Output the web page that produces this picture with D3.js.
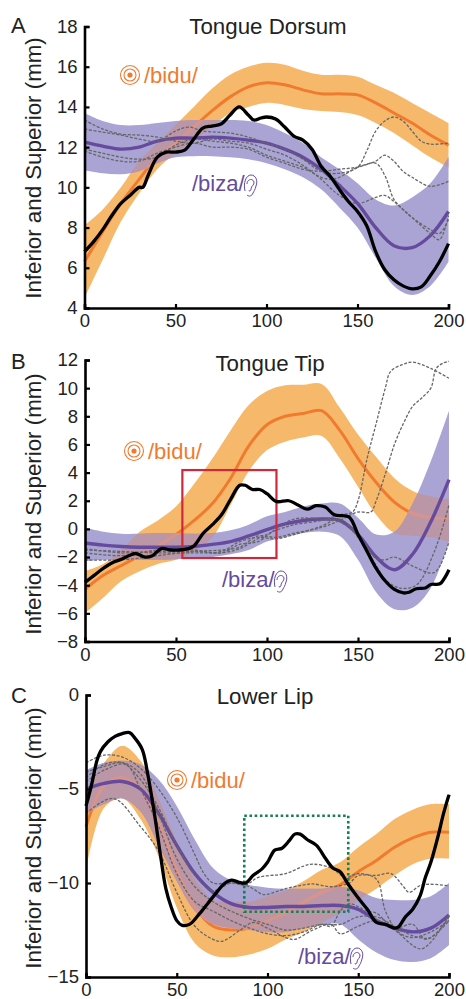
<!DOCTYPE html>
<html><head><meta charset="utf-8">
<script src="https://cdn.jsdelivr.net/npm/d3@7"></script>
<style>html,body{margin:0;padding:0;background:#fff;overflow:hidden}svg{display:block}text{font-family:"Liberation Sans",Arial,sans-serif}</style>
</head><body><svg id="c" width="466" height="999"></svg>
<script>
// ---------- shared grid ----------
const gridX = d3.range(0, 201, 10);

// ---------- Panel A: Tongue Dorsum ----------
const aOrangeMean = [6.3,7.8,9.2,10.4,11.5,12.2,13.0,13.8,14.5,15.0,15.2,15.1,14.85,14.65,14.65,14.6,14.2,13.7,13.2,12.6,12.1];
const aOrangeUp = [8.1,8.9,10,11.3,12.2,13.1,14,14.9,15.6,16,16.2,16.1,15.8,15.6,15.6,15.5,15.1,14.7,14.2,13.7,13.2];
const aOrangeLo = [4.5,6.4,8.3,9.7,10.9,11.7,12.3,13,13.7,14,14.2,14.1,13.9,13.8,13.75,13.6,13.2,12.7,12.1,11.5,11.0];
const aPurpleMean = [12.25,12.05,11.9,12.0,12.3,12.45,12.45,12.5,12.45,12.35,12.2,11.9,11.5,10.9,10.1,9.2,8.0,7.1,7.0,7.6,8.8];
const aPurpleUp = [13.7,13.3,13.1,13.1,13.2,13.3,13.35,13.35,13.35,13.3,13.1,12.7,12.2,11.5,10.9,10.2,9.4,9.1,9.5,10.2,11.5];
const aPurpleLo = [10.85,10.7,10.65,10.8,11.2,11.5,11.55,11.55,11.5,11.4,11.2,10.9,10.5,9.9,9,8,6.5,5.1,4.65,5.1,6.3];
const aBlack = [[0,6.8],[5,7.3],[10,7.9],[15,8.6],[20,9.2],[25,9.6],[30,10.0],[32,10.0],[35,10.6],[40,11.5],[45,11.75],[50,11.75],[55,11.85],[60,12.4],[65,12.95],[70,13.05],[75,13.15],[80,13.6],[85,14.0],[90,13.6],[93,13.35],[97,13.45],[100,13.5],[105,13.4],[110,13.0],[115,12.55],[120,12.35],[125,11.9],[130,11.05],[135,10.55],[140,9.9],[145,9.3],[150,8.8],[155,8.1],[160,6.8],[165,5.9],[170,5.4],[175,5.1],[180,4.95],[185,5.05],[190,5.6],[195,6.3],[200,7.2]];
const aDashed = [
 [[0,12.9],[10,12.75],[20,12.6],[30,12.4],[40,12.3],[50,12.8],[57,13.0],[65,12.8],[80,12.7],[90,12.5],[100,12.2],[110,11.9],[120,11.4],[130,10.8],[140,10.7],[150,11],[155,11.8],[160,12.8],[165,13.3],[170,13.5],[175,13.3],[180,12.8],[185,12.3],[190,12.15],[200,12.2]],
 [[0,11.9],[10,11.7],[20,11.5],[30,11.4],[40,11.5],[50,12.1],[60,12.4],[70,12.3],[80,12.2],[90,12.0],[100,11.6],[110,11.3],[120,11],[130,10.5],[135,10.4],[140,10.5],[150,11],[160,11.3],[165,11.6],[170,11.3],[175,10.8],[180,10.5],[190,10.05],[200,10.3]],
 [[0,13.35],[10,12.9],[20,12.65],[30,12.6],[40,12.5],[50,12.3],[60,12.2],[70,12.4],[80,12.3],[90,12.2],[100,11.9],[110,11.6],[120,11.1],[130,10.4],[140,9.6],[150,9.2],[160,9.5],[165,9.6],[170,9.3],[175,8.9],[180,8.5],[190,7.7],[195,7.4],[200,8.6]],
 [[0,11.8],[10,11.5],[20,11.3],[30,11.3],[40,11.7],[50,12.0],[60,12.2],[70,12.0],[80,12.0],[90,11.9],[100,11.5],[110,11.2],[120,10.9],[130,10.8],[140,10.9],[150,11],[160,11.2],[165,10.6],[170,9.4],[175,8.9],[180,8.5],[190,7.9],[195,7.7],[200,8.4]]
];

// ---------- Panel B: Tongue Tip ----------
const bOrangeMean = [-4.3,-3.3,-2.6,-1.9,-1.2,-0.4,0.6,1.8,3.6,5.9,7.4,8.0,8.2,8.4,7.0,5.0,3.3,1.9,1.1,0.8,0.7];
const bOrangeUp = [-3,-2.5,-1.5,-0.2,0.6,1.6,3.2,5.0,7.0,8.8,9.8,10.2,10.25,10.3,8.6,6.7,5.1,3.6,2.7,2.3,2.1];
const bOrangeLo = [-6,-4.9,-3.7,-3.0,-2.5,-2.2,-1.6,-0.6,1.7,4.1,5.6,6.2,6.5,6.6,5.0,3.0,1.0,-0.3,-0.5,-0.6,-0.9];
const bPurpleMean = [-1.0,-1.15,-1.25,-1.3,-1.3,-1.3,-1.25,-1.1,-0.9,-0.5,-0.05,0.35,0.6,0.7,0.6,-0.4,-2.0,-2.9,-1.8,0.5,3.5];
const bPurpleUp = [0.1,-0.2,-0.35,-0.35,-0.3,-0.3,-0.35,-0.3,-0.1,0.3,0.9,1.2,1.6,1.8,1.8,0.8,-0.4,-0.2,1.8,4.8,8.4];
const bPurpleLo = [-2.3,-2.2,-2.2,-2.2,-2.2,-2.15,-2.1,-2.0,-1.8,-1.5,-0.9,-0.6,-0.3,-0.2,-0.5,-2.2,-4.5,-5.7,-5.6,-4.2,-0.9];
const bBlack = [[0,-3.8],[5,-3.3],[10,-2.8],[15,-2.4],[20,-2.15],[25,-1.85],[28,-1.75],[33,-2.0],[37,-1.9],[42,-1.4],[47,-1.5],[52,-1.5],[57,-1.4],[60,-1.2],[65,-0.3],[70,0.3],[75,1.0],[80,2.1],[85,3.1],[88,3.1],[92,2.8],[96,2.8],[100,2.5],[105,1.95],[112,2.0],[117,1.7],[122,1.4],[127,1.65],[132,1.55],[137,1.0],[145,0.85],[150,-0.4],[155,-1.6],[160,-2.8],[165,-3.7],[170,-4.3],[175,-4.55],[178,-4.5],[182,-4.25],[187,-4.2],[190,-3.95],[195,-3.9],[198,-3.4],[200,-2.9]];
const bDashed = [
 [[0,-1.4],[20,-1.7],[40,-1.6],[60,-1.6],[75,-1.7],[85,-1.4],[95,-0.7],[105,-0.1],[115,0.3],[130,0.6],[140,1.0],[147,1.2],[150,2.0],[155,5.0],[160,7.5],[165,10],[168,11.2],[175,11.7],[180,11.85],[190,11.4],[200,10.7]],
 [[0,-2.2],[20,-2.2],[40,-1.9],[60,-1.6],[75,-1.5],[85,-1.3],[95,-0.5],[105,-0.6],[115,-0.3],[130,0.1],[140,0.6],[150,1.2],[157,1.2],[160,2.0],[165,3.9],[170,6],[175,7.5],[180,8.7],[185,9.3],[190,10],[193,11.4],[197,11.8],[200,11.9]],
 [[0,-1.7],[20,-1.9],[40,-1.5],[60,-1.5],[75,-1.7],[85,-1.1],[95,-0.9],[105,0.0],[115,0.7],[130,0.7],[140,0.5],[150,-0.5],[160,-2.1],[165,-2.2],[170,-2.0],[181,-2.7],[192,-3.1],[200,-0.9]],
 [[0,-1.5],[20,-1.6],[40,-1.7],[60,-1.7],[75,-1.6],[85,-0.9],[95,-0.6],[105,-0.7],[115,-0.4],[130,0.2],[140,0.7],[150,-0.6],[160,-2.6],[165,-3.6],[173,-4.2],[182,-4.0],[192,-1.6],[200,1.7]]
];
const bRedBox = {x0:53.5, x1:105.2, y0:4.18, y1:-2.07};

// ---------- Panel C: Lower Lip ----------
const cOrangeMean = [-7,-4.8,-4.4,-5,-6.8,-9.3,-11.3,-12.3,-12.5,-12.4,-12,-11.6,-11,-10.5,-10.1,-9.4,-8.8,-8.1,-7.6,-7.3,-7.3];
const cOrangeUp = [-5,-3.6,-2.7,-3.5,-5.5,-7.8,-9.8,-10.9,-11,-11,-10.7,-10.4,-9.9,-9.3,-8.9,-8.1,-7.4,-6.6,-6.1,-5.8,-5.8];
const cOrangeLo = [-9.3,-6.0,-5.5,-6.6,-8.6,-11.3,-13.2,-13.85,-13.95,-13.8,-13.5,-13,-12.6,-12.1,-11.6,-10.9,-10.3,-9.6,-9,-8.7,-8.7];
const cPurpleMean = [-5,-4.7,-4.6,-5,-6.3,-8,-9.5,-10.5,-11.1,-11.3,-11.3,-11.25,-11.25,-11.2,-11.2,-11.4,-12,-12.4,-12.6,-12.4,-11.7];
const cPurpleUp = [-4,-3.6,-3.5,-3.7,-4.5,-5.9,-7.7,-9.2,-9.85,-10.1,-10.25,-10.3,-10.3,-10.3,-10.2,-10.4,-10.8,-10.9,-10.9,-10.7,-10];
const cPurpleLo = [-6.3,-5.8,-5.5,-6.2,-8,-9.9,-11.5,-12.2,-12.4,-12.5,-12.6,-12.6,-12.4,-12.2,-12.2,-13,-13.7,-14.1,-14.2,-14.0,-13.3];
const cBlack = [[0,-5.9],[3,-4.8],[6,-3.5],[8,-3],[12,-2.5],[16,-2.2],[20,-2.05],[24,-2.0],[27,-2.3],[31,-2.9],[34,-4.2],[38,-6.5],[41,-8.5],[44,-10.3],[47,-11.3],[50,-12.0],[53,-12.25],[57,-12.2],[62,-11.7],[67,-11.1],[72,-10.5],[76,-10.05],[80,-9.85],[84,-9.95],[88,-10.0],[92,-9.6],[97,-9.25],[100,-8.9],[104,-8.25],[108,-8.15],[112,-7.75],[115,-7.4],[118,-7.4],[122,-7.7],[127,-8.0],[132,-8.7],[136,-9.2],[140,-9.4],[144,-10],[150,-10.8],[155,-11.4],[160,-12.1],[165,-12.2],[170,-12.4],[172,-12.35],[176,-11.8],[180,-11.4],[184,-10.7],[187,-9.7],[190,-8.9],[194,-7.5],[197,-6.3],[200,-5.3]];
const cDashed = [
 [[0,-3.6],[10,-3.2],[20,-3.3],[30,-3.9],[40,-5],[50,-6.5],[60,-8.5],[65,-9.5],[70,-10],[80,-10],[90,-10.2],[97,-10.6],[100,-10.6],[110,-10.3],[120,-10.1],[125,-10.05],[135,-10.2],[145,-10],[150,-9.6],[160,-9.6],[168,-9.5],[175,-10.2],[178,-10.5],[185,-10.1],[200,-10.15]],
 [[0,-4.4],[10,-3.7],[20,-3.6],[30,-4.5],[40,-6],[50,-8],[60,-9.6],[70,-10.4],[80,-10],[88,-10.1],[95,-9.7],[110,-9.5],[120,-9.1],[125,-9],[135,-9.2],[143,-9.7],[150,-9.5],[160,-9.8],[165,-11.5],[172,-12.6],[180,-12.9],[190,-12.6],[200,-12]],
 [[0,-6.3],[15,-5.5],[30,-7],[40,-8.3],[50,-10.5],[60,-12.3],[70,-13],[75,-13.1],[85,-12.5],[92,-12.1],[100,-12.4],[110,-12.9],[115,-13],[125,-12.5],[135,-12.2],[140,-12.7],[150,-12.3],[160,-12],[170,-12.5],[185,-13.5],[200,-11.7]],
 [[0,-4.6],[10,-4],[22,-3.7],[30,-5],[40,-7],[50,-9.5],[60,-11],[70,-11.5],[80,-12],[90,-12.4],[100,-12.7],[110,-12.8],[120,-12.6],[130,-12.2],[135,-12.3],[140,-11.5],[145,-11.1],[155,-11.5],[160,-11.6],[170,-12.4],[180,-12.2],[187,-13],[195,-12.5],[200,-12]],
 [[0,-4.1],[10,-3.8],[20,-3.6],[30,-4.2],[40,-6.3],[50,-8.7],[60,-10.2],[70,-11],[80,-11.5],[90,-11.9],[100,-12.2],[110,-12.5],[120,-12.4],[130,-12.2],[140,-12.2],[150,-11.8],[160,-11.8],[170,-12.3],[180,-12.8],[190,-12.9],[200,-11.8]]
];
const cGreenBox = {x0:87.2, x1:144.5, y0:-6.42, y1:-11.53};

// ---------- tick labels ----------
const xTicks = [0,50,100,150,200];
const aTicks = [4,6,8,10,12,14,16,18];
const bTicks = [-8,-6,-4,-2,0,2,4,6,8,10,12];
const cTicks = [-15,-10,-5,0];
const panelLetters = ["A","B","C"];
const titles = ["Tongue Dorsum","Tongue Tip","Lower Lip"];
const yLabel = "Inferior and Superior (mm)";

// ---------- style ----------
const ORANGE_BAND="#f6b96c", ORANGE_LINE="#f07a2e", PURPLE_BAND="#aaa4d4", PURPLE_LINE="#654a9e", OVERLAP="#bb96a6", OVERLAP_LINE="#d9948a";

const panels = [
 {top:26.5,bottom:308,left:84.5,right:448.5,dom:[4,18],ticks:aTicks,letterY:33,titleX:268,titleY:34,
  om:aOrangeMean,ou:aOrangeUp,ol:aOrangeLo,pm:aPurpleMean,pu:aPurpleUp,pl:aPurpleLo,black:aBlack,dashed:aDashed,
  bidu:[121,75],biza:[192,191],ylabelCy:168},
 {top:360,bottom:641.5,left:85,right:449,dom:[-8,12],ticks:bTicks,letterY:369,titleX:270,titleY:371,
  om:bOrangeMean,ou:bOrangeUp,ol:bOrangeLo,pm:bPurpleMean,pu:bPurpleUp,pl:bPurpleLo,black:bBlack,dashed:bDashed,box:bRedBox,boxColor:"#d0283a",boxDash:null,
  bidu:[125,451],biza:[222,587],ylabelCy:504},
 {top:695,bottom:977,left:86,right:449,dom:[-15,0],ticks:cTicks,letterY:703,titleX:265,titleY:704,
  om:cOrangeMean,ou:cOrangeUp,ol:cOrangeLo,pm:cPurpleMean,pu:cPurpleUp,pl:cPurpleLo,black:cBlack,dashed:cDashed,box:cGreenBox,boxColor:"#17804f",boxDash:"2.6 2.6",
  bidu:[168,780],biza:[298,964],ylabelCy:838}
];

const svg = d3.select("#c");

function earIcon(g, x, y, color){
  const e = g.append("g").attr("transform",`translate(${x},${y})`).attr("fill","none").attr("stroke",color).attr("stroke-width",1);
  e.append("path").attr("d","M1,-1 C-1,-9 2,-17 7,-17 C12,-17 14,-11 12,-6 C11,-2 10,-1 9,1 C8,4 5,5 3,3");
  e.append("path").attr("d","M3,-8 C3,-13 9,-14 10,-10 C10.5,-7 7,-6 7,-3 C7,-1 5,0 5,-2");
}
function targetIcon(g, x, y){
  const t = g.append("g").attr("transform",`translate(${x},${y})`);
  [9.5,6].forEach(r=>t.append("circle").attr("r",r).attr("fill","none").attr("stroke",ORANGE_LINE).attr("stroke-width",1.1));
  t.append("circle").attr("r",2.6).attr("fill",ORANGE_LINE);
}

panels.forEach((p,i)=>{
  const x = d3.scaleLinear().domain([0,200]).range([p.left,p.right]);
  const y = d3.scaleLinear().domain(p.dom).range([p.bottom,p.top]);
  const g = svg.append("g");
  const curve = d3.curveCatmullRom.alpha(0.5);
  const band = d3.area().x((d,j)=>x(gridX[j])).y0(d=>y(d[0])).y1(d=>y(d[1])).curve(curve);
  const meanLine = d3.line().x((d,j)=>x(gridX[j])).y(d=>y(d)).curve(curve);
  const ptLine = d3.line().x(d=>x(d[0])).y(d=>y(d[1])).curve(curve);
  const oBand = band(d3.zip(p.ol,p.ou)), pBand = band(d3.zip(p.pl,p.pu));
  const clipO=`clipO${i}`, clipP=`clipP${i}`;
  const defs = g.append("defs");
  defs.append("clipPath").attr("id",clipO).append("path").attr("d",oBand);
  defs.append("clipPath").attr("id",clipP).append("path").attr("d",pBand);

  g.append("path").attr("d",oBand).attr("fill",ORANGE_BAND);
  g.append("path").attr("d",meanLine(p.om)).attr("fill","none").attr("stroke",ORANGE_LINE).attr("stroke-width",3);
  g.append("path").attr("d",pBand).attr("fill",PURPLE_BAND);
  g.append("path").attr("d",pBand).attr("fill",OVERLAP).attr("clip-path",`url(#${clipO})`);
  g.append("path").attr("d",meanLine(p.om)).attr("fill","none").attr("stroke",OVERLAP_LINE).attr("stroke-width",3).attr("clip-path",`url(#${clipP})`);
  g.append("path").attr("d",meanLine(p.pm)).attr("fill","none").attr("stroke",PURPLE_LINE).attr("stroke-width",3.4);
  p.dashed.forEach(d=>g.append("path").attr("d",ptLine(d)).attr("fill","none").attr("stroke","#666").attr("stroke-width",1.3).attr("stroke-dasharray","3 1.6"));
  if(p.box){
    g.append("rect").attr("x",x(p.box.x0)).attr("width",x(p.box.x1)-x(p.box.x0)).attr("y",y(p.box.y0)).attr("height",y(p.box.y1)-y(p.box.y0))
     .attr("fill","none").attr("stroke",p.boxColor).attr("stroke-width",p.boxDash?2.6:2.2).attr("stroke-dasharray",p.boxDash);
  }
  g.append("path").attr("d",ptLine(p.black)).attr("fill","none").attr("stroke","#000").attr("stroke-width",3.3).attr("stroke-linejoin","round");

  const ax = g.append("g").attr("transform",`translate(0,${p.bottom})`).call(d3.axisBottom(x).tickValues(xTicks).tickSize(-4).tickPadding(6).tickFormat(d3.format("d")));
  const ay = g.append("g").attr("transform",`translate(${p.left},0)`).call(d3.axisLeft(y).tickValues(p.ticks).tickSize(-5).tickPadding(7).tickFormat(d=>String(d).replace("-","\u2212")));
  [ax,ay].forEach(a=>{
    a.selectAll("path.domain").attr("stroke","#000").attr("stroke-width",2.6);
    a.selectAll("line").attr("stroke","#000").attr("stroke-width",2.2);
    a.selectAll("text").attr("fill","#222").style("font-size","18.5px").style("font-family",'"Liberation Sans",Arial,sans-serif');
  });

  g.append("text").attr("x",11).attr("y",p.letterY).attr("font-size",22).attr("fill","#222").text(panelLetters[i]);
  g.append("text").attr("x",p.titleX).attr("y",p.titleY).attr("text-anchor","middle").attr("font-size",22.3).attr("fill","#222").text(titles[i]);
  g.append("text").attr("transform",`translate(41,${p.ylabelCy}) rotate(-90)`).attr("text-anchor","middle").attr("font-size",22.3).attr("fill","#222").text(yLabel);

  targetIcon(g,p.bidu[0]+9,p.bidu[1]);
  g.append("text").attr("x",p.bidu[0]+23).attr("y",p.bidu[1]+8).attr("font-size",22).attr("fill",ORANGE_LINE).text("/bidu/");
  g.append("text").attr("x",p.biza[0]).attr("y",p.biza[1]).attr("font-size",22).attr("fill",PURPLE_LINE).text("/biza/");
  earIcon(g,p.biza[0]+52,p.biza[1]+1,PURPLE_LINE);
});
</script></body></html>
